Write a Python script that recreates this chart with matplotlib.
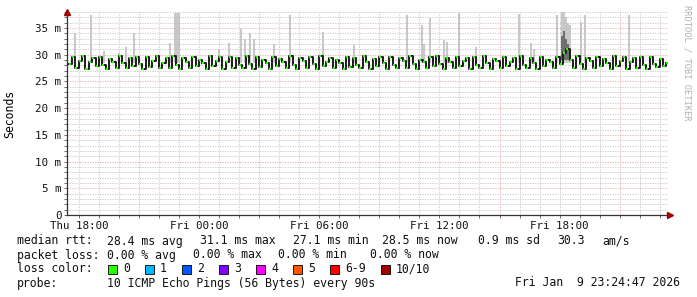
import matplotlib
matplotlib.use("Agg")
import matplotlib.pyplot as plt
from matplotlib.patches import Rectangle

# time axis: hours since Thu 00:00, one median sample every 10 minutes
t_start = 17.5
t_step = 1 / 6
median_ms = [
    28.3, 29.5, 27.6, 28.9, 29.7, 27.4, 28.6, 29.4, 27.8, 29.6,
    28.1, 27.3, 29.2, 28.7, 27.5, 29.8, 28.4, 27.6, 29.3, 27.9,
    29.6, 28.2, 27.4, 29.5, 27.7, 28.8, 29.7, 27.5, 28.5, 29.3,
    27.6, 29.8, 28.0, 27.3, 29.4, 28.6, 27.5, 29.6, 27.9, 29.1,
    28.4, 27.4, 29.7, 27.8, 28.9, 29.5, 27.3, 28.7, 29.6, 27.6,
    29.3, 28.1, 27.5, 29.8, 28.3, 27.4, 29.5, 27.7, 29.0, 28.5,
    27.3, 29.6, 27.8, 29.2, 28.6, 27.5, 29.7, 28.0, 27.4, 29.4,
    28.8, 27.6, 29.5, 28.2, 27.3, 29.8, 27.9, 28.7, 29.4, 27.5,
    29.1, 28.4, 27.4, 29.6, 27.7, 29.3, 28.1, 27.5, 29.7, 28.6,
    27.4, 29.2, 27.8, 29.5, 28.5, 27.3, 29.6, 28.0, 27.6, 29.4,
    28.9, 27.5, 29.7, 28.3, 27.4, 29.1, 28.7, 27.6, 29.5, 27.9,
    29.8, 28.2, 27.3, 29.4, 28.6, 27.5, 29.6, 27.8, 28.9, 29.3,
    27.4, 29.5, 28.1, 27.6, 29.7, 28.4, 27.3, 29.2, 28.8, 27.5,
    29.6, 27.9, 28.6, 29.4, 27.4, 29.8, 28.0, 27.6, 29.3, 28.5,
    27.3, 29.6, 27.8, 29.1, 28.7, 27.5, 29.5, 28.2, 30.4, 31.1,
    29.0, 27.6, 29.7, 28.3, 27.4, 29.4, 28.8, 27.5, 29.6, 27.9,
    29.2, 28.4, 27.3, 29.7, 27.8, 28.9, 29.5, 27.4, 28.6, 29.3,
    27.6, 29.5, 28.1, 27.4, 29.6, 28.3, 27.7, 29.2, 27.9, 28.5,
]

# light smoke spikes (slowest ping of a round)
spike_t = [17.8, 18.6, 19.25, 20.0, 20.35, 20.75, 22.55, 22.8, 22.9, 23.0,
           25.0, 25.5, 26.1, 26.3, 26.55, 26.75, 27.75, 28.55, 30.2, 31.75,
           34.4, 35.15, 35.25, 35.55, 36.25, 36.4, 37.0, 37.85, 39.95, 40.55,
           40.7, 41.85, 42.1, 42.2, 42.3, 42.4, 42.5, 43.05, 43.25, 45.45]
spike_ms = [34.1, 37.5, 30.7, 30.4, 31.5, 34.0, 32.2, 37.8, 37.8, 37.8,
            31.0, 32.2, 34.8, 33.0, 34.0, 33.0, 32.0, 37.5, 34.3, 31.8,
            37.5, 35.6, 32.0, 36.9, 32.8, 32.4, 37.8, 31.5, 37.6, 32.2,
            31.0, 37.5, 38.0, 38.0, 37.0, 36.0, 35.6, 36.1, 37.5, 37.5]

# darker smoke around the busy period on Fri evening
dark_t = [42.1, 42.2, 42.3, 42.4]
dark_ms = [33.5, 34.5, 33.0, 32.0]

loss_labels = ["0", "1", "2", "3", "4", "5", "6-9", "10/10"]
loss_colors = ["#26ff00", "#00b8ff", "#0059ff", "#7e00ff",
               "#ff00ff", "#ff5500", "#ff0000", "#a00000"]

xtick_hours = [18, 24, 30, 36, 42]
xtick_labels = ["Thu 18:00", "Fri 00:00", "Fri 06:00", "Fri 12:00", "Fri 18:00"]
ytick_vals = [0, 5, 10, 15, 20, 25, 30, 35]
ytick_labels = ["0", "5 m", "10 m", "15 m", "20 m", "25 m", "30 m", "35 m"]

x_min, x_max = 17.41, 47.41
y_max = 38

W, H = 697, 297
fig = plt.figure(figsize=(W / 100, H / 100), dpi=100)
fig.patch.set_facecolor("white")
ax = fig.add_axes([67 / W, (H - 215) / H, 601 / W, 203 / H])
ax.set_facecolor("white")
ax.set_xlim(x_min, x_max)
ax.set_ylim(0, y_max)

mono = "DejaVu Sans Mono"

# grid, drawn by hand like rrdtool does
for v in range(1, y_max + 1):
    if v % 5 == 0:
        ax.axhline(v, color="#e8a4a4", lw=0.6, ls=(0, (1.5, 1.5)), zorder=0)
    else:
        ax.axhline(v, color="#c4c4c4", lw=0.6, ls=(0, (1.5, 1.5)), zorder=0)
for h in range(18, 48):
    if h % 6 == 3:
        ax.axvline(h, color="#e8a4a4", lw=0.6, ls=(0, (1.5, 1.5)), zorder=0)
    else:
        ax.axvline(h, color="#c4c4c4", lw=0.6, ls=(0, (1.5, 1.5)), zorder=0)

times = [t_start + i * t_step for i in range(len(median_ms))]

# smoke
ax.vlines(spike_t, 28.5, spike_ms, color="#bdbdbd", lw=1.2, zorder=1)
ax.vlines(dark_t, 29.0, dark_ms, color="#555555", lw=1.1, zorder=2)

# median: dark vertical transitions, green flat parts
ax.step(times, median_ms, where="post", color="#1c1c1c", lw=1.4, zorder=3)
ax.hlines(median_ms, times, [t + t_step * 0.6 for t in times],
          color=loss_colors[0], lw=1.6, zorder=4)

# axes look
for s in ["top", "right"]:
    ax.spines[s].set_visible(False)
for s in ["left", "bottom"]:
    ax.spines[s].set_color("#333333")
    ax.spines[s].set_linewidth(0.9)
ax.plot([0], [1.0], marker="^", color="#a00000", ms=4, transform=ax.transAxes,
        clip_on=False, zorder=6)
ax.plot([1.004], [0], marker=">", color="#a00000", ms=4, transform=ax.transAxes,
        clip_on=False, zorder=6)

ax.set_yticks(ytick_vals)
ax.set_yticklabels(ytick_labels, fontfamily=mono, fontsize=7.8)
ax.set_yticks(range(0, y_max + 1), minor=True)
ax.set_xticks(xtick_hours)
ax.set_xticklabels(xtick_labels, fontfamily=mono, fontsize=7.8)
ax.set_xticks(range(18, 48), minor=True)
ax.tick_params(which="both", length=2, width=0.6, color="#555555", pad=2)
ax.tick_params(axis="both", labelcolor="#111111")
ax.set_ylabel("Seconds", fontfamily=mono, fontsize=8.3)
ax.yaxis.set_label_coords(-51 / 601, 0.5)

fig.text(687 / W, 1 - 5 / H, "RRDTOOL / TOBI OETIKER", rotation=270,
         fontfamily=mono, fontsize=6.3, color="#b0b0b0", va="top", ha="center")

# legend block
fs = 8.3
def put(xp, yp, s, **kw):
    fig.text(xp / W, 1 - yp / H, s, fontfamily=mono, fontsize=fs,
             va="center", ha=kw.pop("ha", "left"), color="#111111", **kw)

put(16.7, 241, "median rtt:")
for xp, s in [(106.7, "28.4 ms avg"), (200, "31.1 ms max"), (293.3, "27.1 ms min"),
              (381.7, "28.5 ms now"), (478, "0.9 ms sd"), (557, "30.3"),
              (602.7, "am/s")]:
    put(xp, 241, s)
put(16.7, 255, "packet loss:")
for xp, s in [(106.7, "0.00 % avg"), (193, "0.00 % max"), (278, "0.00 % min"),
              (370, "0.00 % now")]:
    put(xp, 255, s)
put(16.7, 269, "loss color:")
sq_x = [108, 145, 182, 219, 256, 293, 330, 381]
for xp, lab, col in zip(sq_x, loss_labels, loss_colors):
    fig.patches.append(Rectangle((xp / W, 1 - 274 / H), 9 / W, 9 / H,
                                 facecolor=col, edgecolor="black", lw=0.6,
                                 transform=fig.transFigure, figure=fig))
    put(xp + 15, 269, lab)
put(16.7, 283, "probe:")
put(106.7, 283, "10 ICMP Echo Pings (56 Bytes) every 90s")
put(680, 283, "Fri Jan  9 23:24:47 2026", ha="right")

fig.savefig("out.png", dpi=100)
